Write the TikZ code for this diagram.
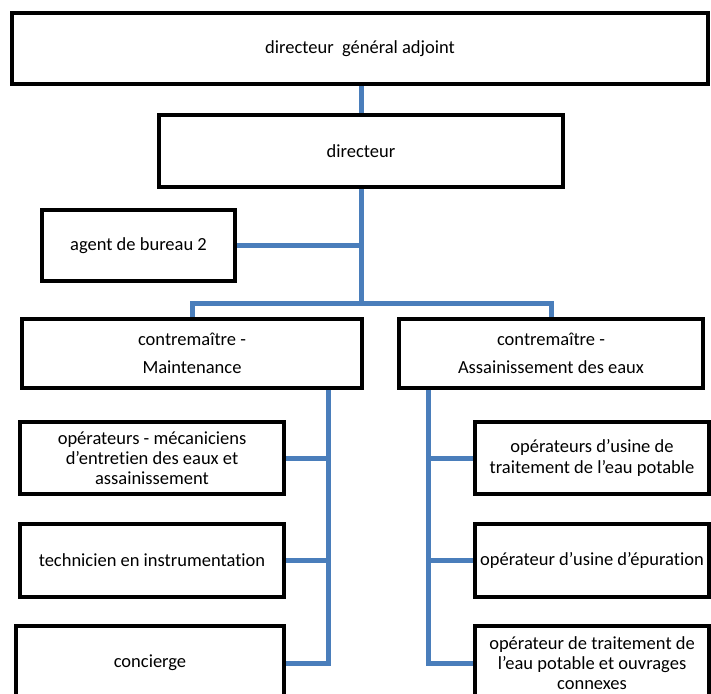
\documentclass[tikz,border=0pt]{standalone}
\usepackage{fontspec}
\setmainfont{Carlito}[Ligatures=NoCommon]
\usetikzlibrary{backgrounds}
\definecolor{linkblue}{HTML}{4A7EBB}
\tikzset{
  box/.style={draw=black, line width=4.5pt, fill=white, align=center, inner sep=0pt,
    font=\fontsize{18.5}{20.3}\selectfont},
  link/.style={draw=linkblue, line width=5pt, line join=miter}
}
\begin{document}
\begin{tikzpicture}[x=1pt,y=-1pt]
\useasboundingbox (0,0) rectangle (711,693);
\clip (0,0) rectangle (711,693);
\node[box, minimum width=696pt, minimum height=71pt] (top) at (360,48.5) {directeur\ \ général adjoint};
\node[box, minimum width=404pt, minimum height=72pt] (dir) at (361,151) {directeur};
\node[box, minimum width=193pt, minimum height=71pt] (agent) at (138.5,245.5) {agent de bureau 2};
\node[box, minimum width=340pt, minimum height=69pt] (cl) at (192,353.5) {contremaître -\\[8pt] Maintenance};
\node[box, minimum width=304pt, minimum height=69pt] (cr) at (551,353.5) {contremaître -\\[8pt] Assainissement des eaux};
\node[box, minimum width=264pt, minimum height=72pt] (l1) at (152,458) {opérateurs - mécaniciens\\ d’entretien des eaux et\\ assainissement};
\node[box, minimum width=264pt, minimum height=73pt] (l2) at (152,560.5) {technicien en instrumentation};
\node[box, minimum width=268pt, minimum height=74pt] (l3) at (150,663) {concierge};
\node[box, minimum width=234pt, minimum height=72pt] (r1) at (592,458) {opérateurs d’usine de\\ traitement de l’eau potable};
\node[box, minimum width=234pt, minimum height=73pt] (r2) at (592,560.5) {opérateur d’usine d’épuration};
\node[box, minimum width=234pt, minimum height=74pt] (r3) at (592,663) {opérateur de traitement de\\ l’eau potable et ouvrages\\ connexes};
\coordinate (j1) at (361,303);
\coordinate (lv) at (328,388);
\coordinate (rv) at (428,388);
\begin{scope}[on background layer]
\draw[link] (dir.north |- top.south) -- (dir.north);
\draw[link] (dir.south) -- (j1);
\draw[link] (agent.east) -- (agent.east -| dir.south);
\draw[link] (cl.north) |- (j1) -| (cr.north);
\draw[link] (lv) |- (l3.east);
\draw[link] (l1.east) -- (l1.east -| lv);
\draw[link] (l2.east) -- (l2.east -| lv);
\draw[link] (rv) |- (r3.west);
\draw[link] (r1.west) -- (r1.west -| rv);
\draw[link] (r2.west) -- (r2.west -| rv);
\end{scope}
\end{tikzpicture}
\end{document}
